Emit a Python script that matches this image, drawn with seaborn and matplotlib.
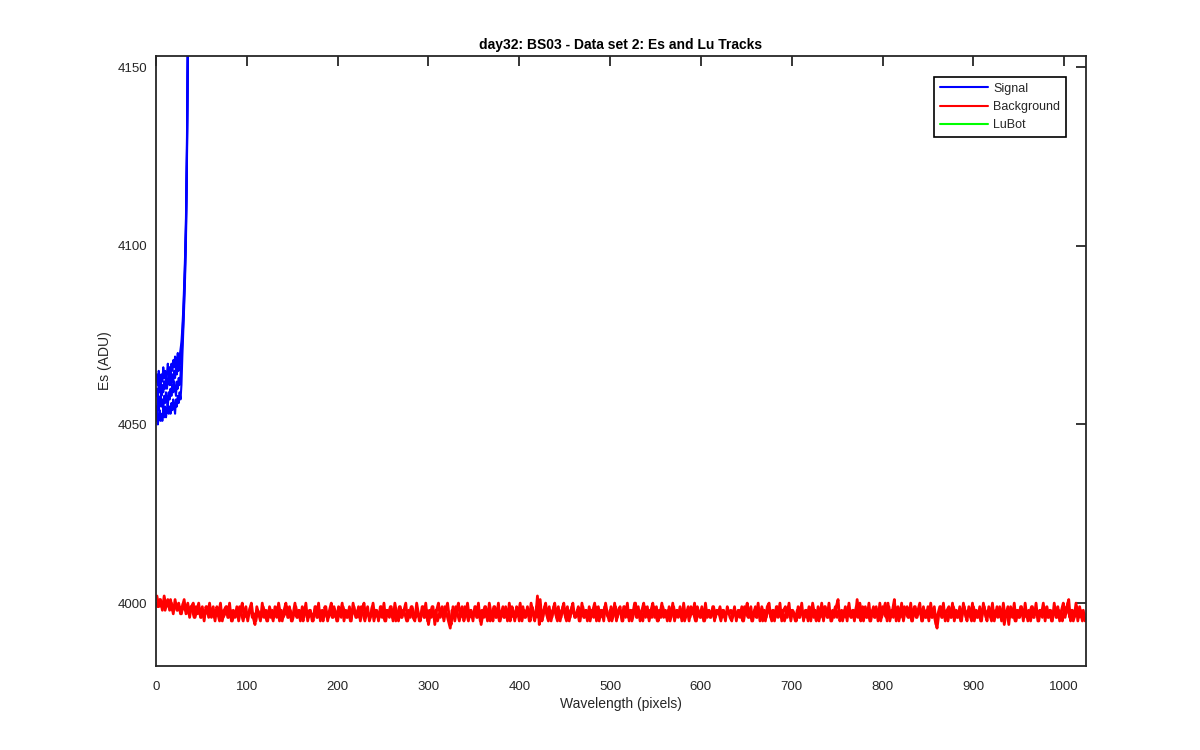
import numpy as np
import matplotlib
matplotlib.use("Agg")
import matplotlib.pyplot as plt
from matplotlib.lines import Line2D
import seaborn as sns

# ---------------- data ----------------
title = "day32: BS03 - Data set 2: Es and Lu Tracks"
x_label = "Wavelength (pixels)"
y_label = "Es (ADU)"
series_names = ["Signal", "Background", "LuBot"]
x_ticks = [0, 100, 200, 300, 400, 500, 600, 700, 800, 900, 1000]
y_ticks = [4000, 4050, 4100, 4150]

signal_1 = [4062, 4064, 4061, 4065, 4063, 4060, 4064, 4062, 4066, 4063, 4065, 4062, 4064, 4067,
            4064, 4066, 4063, 4067, 4065, 4068, 4066, 4069, 4066, 4068, 4070, 4067, 4069, 4071,
            4073, 4077, 4082, 4089, 4097, 4108, 4127, 4157, 4200, 4260]
signal_2 = [4058, 4060, 4057, 4061, 4059, 4062, 4058, 4061, 4059, 4062, 4060, 4063, 4060, 4062,
            4065, 4061, 4063, 4061, 4064, 4062, 4065, 4063, 4066, 4064, 4067, 4065, 4068, 4067,
            4071, 4075, 4080, 4087, 4095, 4106, 4125, 4155, 4198, 4258]
signal_3 = [4055, 4053, 4057, 4054, 4056, 4058, 4055, 4057, 4054, 4058, 4056, 4059, 4057, 4055,
            4059, 4057, 4060, 4058, 4061, 4059, 4062, 4060, 4058, 4062, 4060, 4063, 4061, 4064,
            4068, 4073, 4078, 4085, 4093, 4104, 4123, 4153, 4196, 4256]
signal_4 = [4051, 4053, 4050, 4052, 4054, 4051, 4053, 4051, 4054, 4052, 4055, 4052, 4054, 4056,
            4053, 4055, 4053, 4056, 4054, 4057, 4055, 4053, 4057, 4055, 4058, 4056, 4059, 4057,
            4061, 4069, 4076, 4083, 4091, 4102, 4121, 4151, 4194, 4254]

# background scan 1, sampled at even pixels (0 .. 1022)
background_1 = [
    4000, 3999, 4001, 3999, 4000, 3998, 4000, 3999, 4001, 3998, 3999, 4000, 3998, 3999, 3997, 4000,
    3998, 3999, 3997, 3999, 3998, 3996, 3999, 3997, 3998, 3996, 3998, 3997, 3999, 3996, 3998, 3997,
    3996, 3998, 3997, 3995, 3998, 3996, 3997, 3999, 3996, 3998, 3995, 3997, 3998, 3996, 3999, 3997,
    3995, 3998, 3996, 3997, 3999, 3996, 3997, 3995, 3998, 3997, 3996, 3999, 3997, 3995, 3998, 3996,
    3998, 3996, 3997, 3999, 3995, 3998, 3996, 3997, 3999, 3996, 3998, 3995, 3997, 3999, 3996, 3998,
    3997, 3995, 3999, 3997, 3996, 3998, 3995, 3997, 3999, 3996, 3998, 3997, 3995, 3999, 3997, 3996,
    3998, 3996, 3999, 3997, 3995, 3998, 3996, 3999, 3997, 3996, 3998, 3995, 3997, 3999, 3996, 3998,
    3996, 3999, 3997, 3995, 3998, 3997, 3996, 3999, 3995, 3998, 3997, 3996, 3999, 3997, 3995, 3998,
    3997, 3999, 3996, 3998, 3995, 3997, 3999, 3996, 3998, 3997, 3995, 3998, 3996, 3999, 3997, 3996,
    3998, 3995, 3997, 3999, 3996, 3998, 3994, 3997, 3999, 3996, 3998, 3995, 3997, 3998, 3996, 3999,
    3997, 3995, 3993, 3998, 3996, 3999, 3997, 3995, 3998, 3996, 3999, 3997, 3995, 3998, 3996, 3997,
    3999, 3996, 3998, 3994, 3997, 3999, 3996, 3998, 3995, 3997, 3999, 3996, 3998, 3995, 3997, 3999,
    3996, 3998, 3997, 3995, 3999, 3997, 3996, 3998, 3995, 3997, 3999, 3996, 3998, 3997, 3995, 3999,
    3997, 3996, 4002, 3994, 3998, 3996, 3999, 3997, 3995, 3998, 3996, 3999, 3997, 3995, 3998, 3996,
    3999, 3997, 3995, 3998, 3996, 3999, 3997, 3996, 3998, 3995, 3997, 3999, 3996, 3998, 3997, 3995,
    3998, 3996, 3999, 3997, 3995, 3998, 3996, 3999, 3997, 3996, 3998, 3995, 3997, 3999, 3996, 3998,
    3997, 3995, 3999, 3997, 3996, 3998, 3995, 3997, 4000, 3996, 3998, 3997, 3995, 3999, 3997, 3996,
    3998, 3996, 3999, 3997, 3995, 3998, 3996, 3999, 3997, 3996, 3998, 3995, 3997, 3999, 3996, 3998,
    3997, 3996, 3998, 3995, 3997, 3999, 3996, 3998, 3997, 3995, 3999, 3997, 3996, 3998, 3995, 3997,
    3998, 3996, 3997, 3999, 3996, 3998, 3997, 3995, 3998, 3996, 3997, 3998, 3996, 3995, 3998, 3997,
    3996, 3998, 3997, 3995, 3999, 3997, 3996, 3998, 3995, 3997, 3999, 3996, 3998, 3997, 3995, 3998,
    3996, 3999, 3997, 3995, 3998, 3996, 3999, 3997, 3996, 3998, 3995, 3997, 3999, 3996, 3998, 3997,
    3995, 3998, 3996, 3999, 3997, 3996, 3998, 3995, 3997, 3999, 3996, 3998, 3997, 3995, 3998, 3996,
    3999, 3997, 3996, 3998, 3995, 3997, 3999, 3996, 3998, 3997, 3995, 3998, 3996, 3999, 3997, 3996,
    3998, 3996, 4001, 3997, 3995, 3999, 3997, 3996, 3998, 3995, 3997, 3999, 3996, 3998, 3997, 3995,
    3999, 3997, 3996, 4000, 3995, 3998, 3996, 3999, 3997, 3995, 3998, 3996, 3999, 3997, 3996, 3998,
    3995, 3997, 3999, 3996, 3998, 3997, 3995, 3998, 3996, 3999, 3997, 3996, 3998, 3995, 3993, 3997,
    3999, 3996, 3998, 3997, 3995, 3998, 3996, 3999, 3997, 3996, 3998, 3995, 3997, 3999, 3996, 3998,
    3997, 3995, 3999, 3997, 3996, 3998, 3995, 3997, 3999, 3996, 3998, 3997, 3995, 3998, 3996, 3999,
    3997, 3996, 3998, 3994, 3997, 3999, 3996, 3998, 3997, 3995, 3998, 3996, 3999, 3997, 3996, 3998,
    3995, 3997, 3999, 3996, 3998, 3997, 3995, 3998, 3996, 3999, 3997, 3996, 3998, 3995, 3997, 3999,
    3996, 3998, 3997, 3995, 3999, 3997, 4000, 3996, 3998, 3995, 3997, 3999, 3996, 3998, 3995, 3997,
]
# background scan 2, sampled at odd pixels (1 .. 1023)
background_2 = [
    4002, 3999, 4001, 3998, 4002, 3999, 4001, 3998, 4000, 3997, 4001, 3998, 4000, 3997, 3999, 4001,
    3997, 4000, 3996, 3999, 4000, 3996, 3998, 4000, 3996, 3999, 3995, 3999, 3997, 4000, 3996, 3999,
    3995, 3999, 3997, 4000, 3995, 3998, 3999, 3996, 4000, 3995, 3998, 3996, 3999, 3995, 3998, 4000,
    3996, 3999, 3995, 3998, 4000, 3996, 3994, 3999, 3997, 3995, 4000, 3996, 3998, 3995, 3999, 3997,
    3995, 3999, 3996, 4000, 3997, 3995, 3998, 4000, 3996, 3999, 3995, 3997, 4000, 3996, 3998, 3995,
    3999, 3996, 4000, 3995, 3998, 3997, 3995, 3999, 3996, 4000, 3995, 3998, 3996, 3999, 3995, 3998,
    4000, 3996, 3998, 3995, 3999, 3997, 4000, 3995, 3998, 3996, 3999, 3995, 4000, 3997, 3996, 3999,
    3995, 3998, 4000, 3996, 3999, 3995, 3997, 4000, 3996, 3998, 3995, 3999, 3996, 4000, 3995, 3998,
    3996, 3999, 3995, 4000, 3997, 3995, 3999, 3996, 3998, 4000, 3995, 3997, 3999, 3996, 3995, 4000,
    3997, 3995, 3999, 3996, 4000, 3995, 3998, 3996, 3999, 3994, 3998, 4000, 3996, 3999, 3995, 3998,
    4000, 3996, 3994, 3999, 3995, 3998, 4000, 3996, 3999, 3995, 3997, 4000, 3996, 3998, 3995, 3999,
    3996, 4000, 3995, 3998, 3996, 3999, 3995, 4000, 3997, 3995, 3999, 3996, 4000, 3995, 3998, 3996,
    3999, 3995, 4000, 3996, 3998, 3995, 3999, 3997, 4000, 3995, 3998, 3996, 3999, 3995, 4000, 3997,
    3995, 3999, 3996, 4001, 3995, 3998, 4000, 3996, 3999, 3995, 3998, 4000, 3996, 3999, 3995, 3998,
    4000, 3996, 3999, 3995, 3998, 4000, 3996, 3997, 3999, 3995, 4000, 3996, 3998, 3995, 3999, 3996,
    3998, 4000, 3995, 3999, 3996, 3998, 3995, 4000, 3997, 3995, 3999, 3996, 4000, 3995, 3998, 3999,
    3995, 3999, 3996, 4000, 3995, 3998, 3997, 4000, 3996, 3999, 3995, 3998, 4000, 3996, 3999, 3995,
    3998, 4000, 3996, 3999, 3995, 3997, 4000, 3996, 3998, 3995, 3999, 3996, 4000, 3995, 3998, 3996,
    3999, 3995, 4000, 3996, 3998, 3995, 3999, 3997, 4000, 3995, 3998, 3996, 3999, 3995, 4000, 3996,
    3998, 3996, 3999, 3995, 3998, 3997, 3999, 3996, 3998, 3995, 3999, 3997, 3998, 3996, 3999, 3995,
    3998, 3996, 3999, 3995, 3998, 4000, 3996, 3999, 3995, 3998, 3996, 4000, 3995, 3999, 3997, 3995,
    3999, 4000, 3996, 3998, 3995, 3999, 3996, 4000, 3995, 3998, 3999, 3996, 4000, 3995, 3998, 3997,
    3995, 3999, 3996, 4000, 3995, 3998, 3996, 3999, 3995, 4000, 3997, 3995, 3999, 3996, 4000, 3995,
    3999, 3996, 4000, 3995, 3998, 3996, 3999, 4001, 3995, 3998, 3996, 3999, 3995, 4000, 3996, 3998,
    3995, 3999, 3996, 4000, 3997, 3995, 3999, 3996, 4000, 3995, 3998, 3996, 3999, 3995, 4000, 3996,
    3998, 4000, 3995, 3999, 3996, 3998, 4001, 3995, 3999, 3996, 4000, 3995, 3998, 3999, 3996, 4000,
    3995, 3999, 3996, 3998, 4000, 3995, 3999, 3996, 3998, 3995, 4000, 3996, 3999, 3994, 3997, 3999,
    3996, 4000, 3995, 3998, 3999, 3996, 4000, 3995, 3998, 3996, 3999, 3995, 4000, 3997, 3995, 3999,
    3996, 4000, 3995, 3998, 3996, 3999, 3995, 4000, 3997, 3995, 3999, 3996, 4000, 3995, 3998, 3996,
    3999, 3995, 4000, 3996, 3998, 3994, 3999, 3996, 4000, 3995, 3998, 3996, 3999, 3995, 4000, 3996,
    3998, 3995, 3999, 3996, 4000, 3995, 3998, 3997, 4000, 3995, 3999, 3996, 3998, 3995, 4000, 3996,
    3999, 3995, 3998, 4000, 3996, 3999, 4001, 3995, 3998, 3996, 4000, 3995, 3999, 3996, 3998, 3995,
]
background_step = 2

# ---------------- plotting ----------------
sns.set_style("white")
plt.rcParams["font.family"] = ["Liberation Sans", "DejaVu Sans"]

fig = plt.figure(figsize=(12, 7.5), dpi=100)
ax = fig.add_axes([0.13, 0.112, 0.775, 0.8133])

blue = (0, 0, 1)
red = (1, 0, 0)
green = (0, 1, 0)

for sig in [signal_1, signal_2, signal_3, signal_4]:
    sns.lineplot(x=np.arange(len(sig)), y=sig, color=blue, linewidth=1.5,
                 estimator=None, ax=ax, legend=False)

for k, bg in enumerate([background_1, background_2]):
    bg_x = np.arange(len(bg)) * background_step + k
    sns.lineplot(x=bg_x, y=bg, color=red, linewidth=2.0,
                 estimator=None, ax=ax, legend=False)

ax.set_xlim(0, 1024)
ax.set_ylim(3982.4, 4153.1)
ax.set_xticks(x_ticks)
ax.set_yticks(y_ticks)

axis_col = (0.15, 0.15, 0.15)
for s in ax.spines.values():
    s.set_visible(True)
    s.set_color(axis_col)
    s.set_linewidth(1.3)
ax.tick_params(direction="in", length=7, width=1.3, color=axis_col,
               top=True, right=True, labelsize=9.5, labelcolor=axis_col)
ax.tick_params(axis="x", pad=11)
ax.tick_params(axis="y", pad=6)

ax.set_title(title, fontsize=10, fontweight="bold", color="black", pad=5)
ax.set_xlabel(x_label, fontsize=10, color=axis_col, labelpad=3)
ax.set_ylabel(y_label, fontsize=10, color=axis_col, labelpad=4)

handles = [Line2D([], [], color=c, linewidth=1.5) for c in (blue, red, green)]
leg = ax.legend(handles, series_names, loc="upper right",
                bbox_to_anchor=(1 - 20 / 930, 1 - 21 / 610), borderaxespad=0,
                fontsize=9, handlelength=3.9, handletextpad=0.4, labelspacing=0.5,
                borderpad=0.45, fancybox=False, framealpha=1, edgecolor="black")
leg.get_frame().set_linewidth(1.2)

fig.savefig("out.png", dpi=100, facecolor="white")
